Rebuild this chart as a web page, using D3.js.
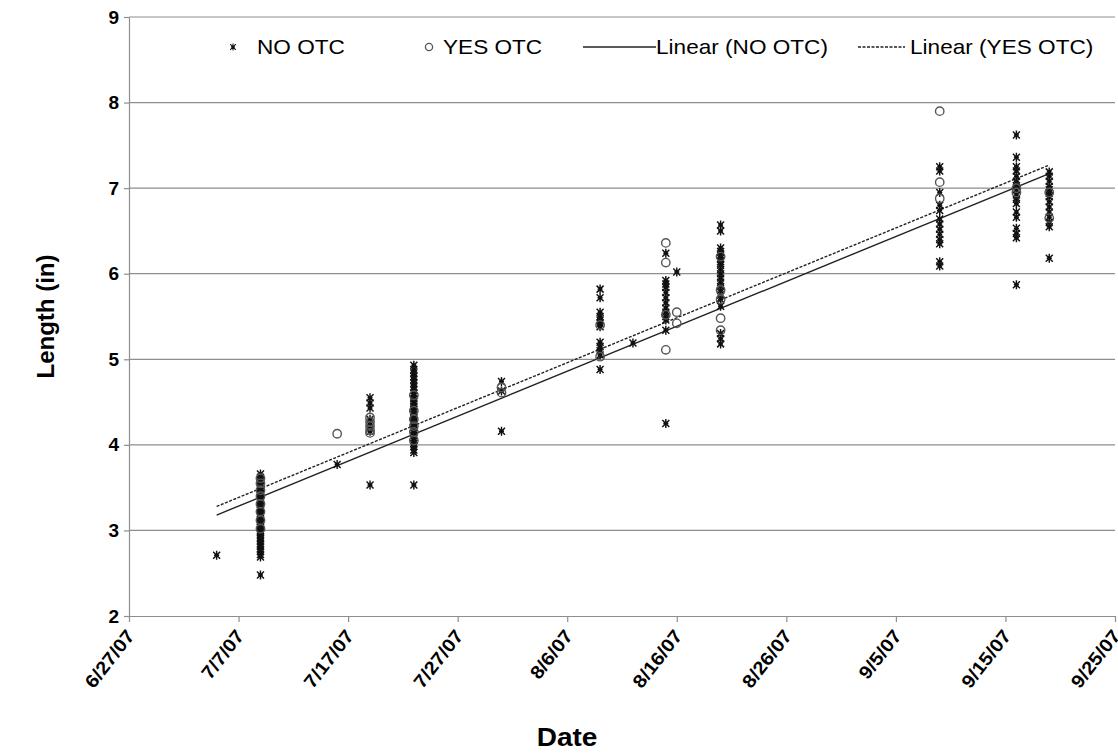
<head>
  <script src="https://d3js.org/d3.v7.min.js"></script>
  <style>
    body { margin: 0; background: #fff; }
    svg { font-family: "Liberation Sans", Arial, sans-serif; }
  </style>
</head>
<body>
<script>
// data
const noDates = ["2007-07-05", "2007-07-09", "2007-07-16", "2007-07-19", "2007-07-23", "2007-07-31",
  "2007-08-09", "2007-08-12", "2007-08-15", "2007-08-16", "2007-08-20", "2007-09-09", "2007-09-16", "2007-09-19"];
const noValues = [
  [2.71],
  [3.66, 3.62, 3.58, 3.55, 3.52, 3.49, 3.46, 3.43, 3.41, 3.38, 3.35, 3.33, 3.30, 3.28, 3.25, 3.23, 3.20, 3.18,
   3.15, 3.13, 3.10, 3.08, 3.05, 3.03, 3.00, 2.98, 2.95, 2.92, 2.90, 2.87, 2.84, 2.81, 2.78, 2.75, 2.72, 2.69, 2.48],
  [3.77],
  [4.55, 4.49, 4.43, 4.30, 4.25, 4.20, 4.16, 3.53],
  [4.93, 4.88, 4.84, 4.80, 4.76, 4.72, 4.68, 4.64, 4.60, 4.57, 4.54, 4.51, 4.48, 4.45, 4.42, 4.39, 4.36, 4.33,
   4.31, 4.28, 4.25, 4.23, 4.20, 4.17, 4.14, 4.11, 4.08, 4.05, 4.02, 3.98, 3.94, 3.91, 3.53],
  [4.74, 4.63, 4.16],
  [5.82, 5.72, 5.55, 5.50, 5.46, 5.42, 5.38, 5.20, 5.15, 5.10, 5.05, 4.88],
  [5.19],
  [6.24, 5.92, 5.88, 5.84, 5.78, 5.72, 5.66, 5.60, 5.55, 5.50, 5.46, 5.34, 4.25],
  [6.02],
  [6.57, 6.50, 6.30, 6.26, 6.22, 6.18, 6.14, 6.10, 6.05, 6.00, 5.95, 5.90, 5.85, 5.80, 5.75, 5.70, 5.62, 5.30, 5.24, 5.18],
  [7.25, 7.20, 6.95, 6.80, 6.74, 6.64, 6.58, 6.52, 6.46, 6.40, 6.35, 6.14, 6.09],
  [7.62, 7.36, 7.25, 7.20, 7.14, 7.08, 7.03, 6.98, 6.92, 6.87, 6.82, 6.72, 6.66, 6.53, 6.47, 6.42, 5.87],
  [7.19, 7.14, 7.08, 7.02, 6.98, 6.94, 6.90, 6.84, 6.78, 6.72, 6.66, 6.60, 6.55, 6.18]
];
const yesDates = ["2007-07-09", "2007-07-16", "2007-07-19", "2007-07-23", "2007-07-31", "2007-08-09",
  "2007-08-15", "2007-08-16", "2007-08-20", "2007-09-09", "2007-09-16", "2007-09-19"];
const yesValues = [
  [3.61, 3.55, 3.47, 3.40, 3.31, 3.22, 3.12, 3.02],
  [4.13],
  [4.32, 4.27, 4.22, 4.17, 4.14],
  [4.58, 4.40, 4.30, 4.22, 4.15, 4.05],
  [4.67, 4.61],
  [5.03, 5.40],
  [6.36, 6.13, 5.52, 5.11],
  [5.55, 5.42],
  [6.20, 5.81, 5.70, 5.48, 5.34],
  [7.90, 7.07, 6.88],
  [6.95, 7.00],
  [6.65, 6.95]
];
// trendline ends
const trendDates = ["2007-07-05", "2007-09-19"];
const noTrend = [3.18, 7.17];
const yesTrend = [3.28, 7.27];

const tickDates = ["2007-06-27", "2007-07-07", "2007-07-17", "2007-07-27", "2007-08-06", "2007-08-16",
  "2007-08-26", "2007-09-05", "2007-09-15", "2007-09-25"];
const yTicks = [2, 3, 4, 5, 6, 7, 8, 9];
const legendLabels = ["NO OTC", "YES OTC", "Linear (NO OTC)", "Linear (YES OTC)"];

const W = 1118, H = 753;
const m = {top: 17, right: 3, bottom: 137, left: 129};
const parse = d3.utcParse("%Y-%m-%d");
const fmt = d3.utcFormat("%-m/%-d/%y");

const svg = d3.select('body').append('svg')
  .attr('width', W).attr('height', H);

const x = d3.scaleUtc()
  .domain([parse(tickDates[0]), parse(tickDates[tickDates.length - 1])])
  .range([m.left, W - m.right]);
const y = d3.scaleLinear().domain([2, 9]).range([H - m.bottom, m.top]);

// gridlines
svg.append('g').selectAll('line').data(yTicks.slice(1)).enter().append('line')
  .attr('x1', m.left).attr('x2', W - m.right)
  .attr('y1', d => y(d)).attr('y2', d => y(d))
  .attr('stroke', '#8e8e8e').attr('stroke-width', 1.2);

// axes
const xAxis = d3.axisBottom(x).tickValues(tickDates.map(parse)).tickFormat(fmt).tickSize(6).tickSizeOuter(0);
const gx = svg.append('g').attr('transform', `translate(0,${y(2)})`).call(xAxis);
gx.selectAll('path, line').attr('stroke', '#8e8e8e').attr('stroke-width', 1.2);
gx.selectAll('text')
  .attr('font-size', 18.5).attr('font-weight', 'bold').attr('fill', '#000')
  .attr('text-anchor', 'end')
  .attr('dy', null).attr('y', 0)
  .attr('transform', 'translate(6,20) rotate(-52) scale(1.1,1)');

const yAxis = d3.axisLeft(y).tickValues(yTicks).tickFormat(d3.format('d')).tickSize(5).tickSizeOuter(0);
const gy = svg.append('g').attr('transform', `translate(${m.left},0)`).call(yAxis);
gy.selectAll('path, line').attr('stroke', '#8e8e8e').attr('stroke-width', 1.2);
gy.selectAll('text').attr('font-size', 19).attr('font-weight', 'bold').attr('fill', '#000').attr('x', -10);

// axis titles
svg.append('text').attr('transform', 'translate(567,746) scale(1.12,1)')
  .attr('text-anchor', 'middle').attr('font-size', 25).attr('font-weight', 'bold').text('Date');
svg.append('text').attr('transform', `translate(54,${(y(2) + y(9)) / 2}) rotate(-90)`)
  .attr('text-anchor', 'middle').attr('font-size', 24).attr('font-weight', 'bold').text('Length (in)');

// flatten points
function flat(dates, values) {
  const out = [];
  dates.forEach((d, i) => values[i].forEach(v => out.push({date: parse(d), v: v})));
  return out;
}
const noPts = flat(noDates, noValues);
const yesPts = flat(yesDates, yesValues);

const star = 'M0,-4.5V4.5M-3.5,-3.5L3.5,3.5M-3.5,3.5L3.5,-3.5M-2.5,0H2.5';

// trend lines
const line = d3.line().x(d => x(d[0])).y(d => y(d[1]));
svg.append('path').datum(trendDates.map((d, i) => [parse(d), noTrend[i]]))
  .attr('d', line).attr('fill', 'none').attr('stroke', '#222').attr('stroke-width', 1.4);
svg.append('path').datum(trendDates.map((d, i) => [parse(d), yesTrend[i]]))
  .attr('d', line).attr('fill', 'none').attr('stroke', '#222').attr('stroke-width', 1.4)
  .attr('stroke-dasharray', '3,1.5');

svg.append('g').selectAll('path').data(noPts).enter().append('path')
  .attr('d', star)
  .attr('transform', d => `translate(${x(d.date)},${y(d.v)})`)
  .attr('stroke', '#111').attr('stroke-width', 1.45).attr('fill', 'none');

svg.append('g').selectAll('circle').data(yesPts).enter().append('circle')
  .attr('cx', d => x(d.date)).attr('cy', d => y(d.v)).attr('r', 4.2)
  .attr('fill', 'none').attr('stroke', '#555').attr('stroke-width', 1.4);

// legend
const lg = svg.append('g').attr('font-size', 20);
function legendText(xp, s) {
  lg.append('text').attr('transform', `translate(${xp},54) scale(1.13,1)`).text(s);
}
lg.append('path').attr('d', star).attr('transform', 'translate(233,47) scale(0.8)')
  .attr('stroke', '#111').attr('stroke-width', 1.3).attr('fill', 'none');
legendText(257, legendLabels[0]);
lg.append('circle').attr('cx', 429).attr('cy', 47).attr('r', 3.6)
  .attr('fill', 'none').attr('stroke', '#555').attr('stroke-width', 1.3);
legendText(443, legendLabels[1]);
lg.append('line').attr('x1', 583).attr('x2', 656).attr('y1', 47).attr('y2', 47)
  .attr('stroke', '#222').attr('stroke-width', 1.4);
legendText(656, legendLabels[2]);
lg.append('line').attr('x1', 858).attr('x2', 905).attr('y1', 47).attr('y2', 47)
  .attr('stroke', '#222').attr('stroke-width', 1.4).attr('stroke-dasharray', '3,1.5');
legendText(910, legendLabels[3]);
</script>
</body>
